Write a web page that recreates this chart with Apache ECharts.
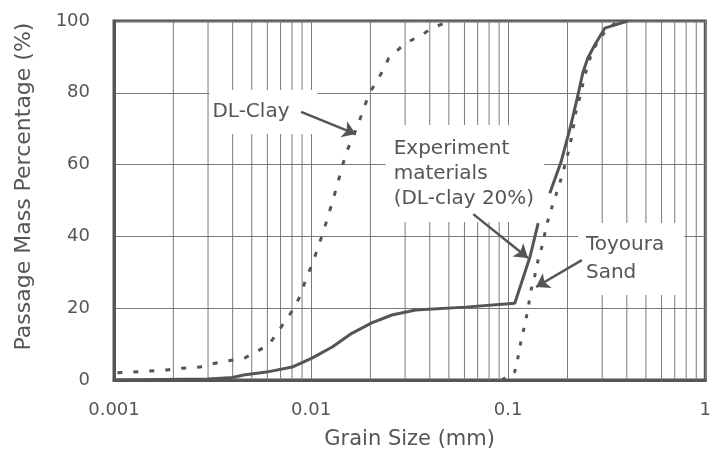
<!DOCTYPE html>
<html>
<head>
<meta charset="utf-8">
<script src="https://cdn.jsdelivr.net/npm/echarts@6/dist/echarts.min.js"></script>
<style>
html,body{margin:0;padding:0;background:#fff;}
#chart{width:714px;height:462px;}
</style>
</head>
<body>
<div id="chart"></div>
<script>
// ---- data ----
const xTickValues = [0.001, 0.01, 0.1, 1];
const xTickLabels = ['0.001', '0.01', '0.1', '1'];
const minorGridX = [0.002,0.003,0.004,0.005,0.006,0.007,0.008,0.009,
                    0.02,0.03,0.04,0.05,0.06,0.07,0.08,0.09,
                    0.2,0.3,0.4,0.5,0.6,0.7,0.8,0.9];

const dlClayX = [0.00104,0.00125,0.00152,0.00185,0.00223,0.00272,0.00313,0.00376,0.00459,0.00515,0.00614,0.0069,0.00774,0.0082,0.0089,0.00944,0.0102,0.01084,0.0115,0.0122,0.0129,0.015,0.01746,0.0185,0.02,0.0225,0.0248,0.0301,0.0364,0.0409,0.0508];
const dlClayY = [2,2.2,2.5,2.8,3.3,3.6,4.5,5.3,6.1,7.5,10,14,18,20,24,28.4,32.6,37,41,45.7,50,63,71.6,75.8,80.3,85,89.7,93.8,96.1,98,100];

const expX = [0.001,0.003,0.004,0.00454,0.00593,0.00802,0.0101,0.0128,0.0161,0.0203,0.0257,0.0339,0.0607,0.108,0.129,0.142,0.152,0.1626,0.1854,0.208,0.226,0.239,0.2535,0.275,0.309,0.404];
const expY = [0,0.3,0.7,1.4,2.2,3.6,6.1,9.2,13,15.9,18.1,19.5,20.3,21.4,34.3,43.7,null,52,60.7,71,79.4,85.5,89.7,93.3,98,100];

const toyX = [0.093,0.108,0.1124,0.1168,0.1214,0.1262,0.1306,0.1364,0.1418,0.1503,0.1556,0.165,0.1746,0.1854,0.196,0.206,0.213,0.22,0.231,0.242,0.251,0.269,0.309,0.36];
const toyY = [0,2.3,6.5,11.6,15.3,20,25,29,33.4,38.2,42.6,47.4,51.5,56,60.7,65.5,69.6,74.4,78.8,83.6,87,92,97,100];

const labelTexts = ['DL-Clay', 'Experiment\nmaterials\n(DL-clay 20%)', 'Toyoura\nSand'];
const labelAnchors = [[0.00305, 74.65], [0.0239, 57.5], [0.226, 33.7]];
const arrowStarts = [[0.0089, 74.7], [0.0665, 46.2], [0.2365, 33.4]];
const arrowEnds = [[0.01686, 68.5], [0.126, 34], [0.1384, 25.9]];

// ---- chart ----
const FONT = 'DejaVu Sans';
const TXT = '#555';
const LINE = '#555';
const GRIDC = '#7a7a7a';

function pairs(xs, ys) {
  return xs.map((x, i) => [x, ys[i] === null ? '-' : ys[i]]);
}
// vertical grid segments for the minor log positions, broken between each
const gridData = [];
minorGridX.forEach(v => { gridData.push([v, 0], [v, 100], [v, '-']); });

const chart = echarts.init(document.getElementById('chart'), null, {renderer: 'canvas'});

const labelPads = [[11, 28, 11, 3], [10, 10, 12, 8], [8, 20, 8, 8]];
const labelLH = [22, 25, 28];

chart.setOption({
  animation: false,
  backgroundColor: '#fff',
  grid: {left: 114, right: 6, top: 21, bottom: 82, show: true, borderColor: LINE, borderWidth: 3, backgroundColor: 'transparent'},
  xAxis: {
    type: 'log', logBase: 10, min: 0.001, max: 1,
    name: 'Grain Size (mm)', nameLocation: 'middle', nameGap: 49,
    nameTextStyle: {fontFamily: FONT, fontSize: 21, color: TXT},
    axisLine: {show: true, lineStyle: {color: LINE, width: 3}},
    axisTick: {show: false},
    splitLine: {show: true, lineStyle: {color: GRIDC, width: 1}},
    minorTick: {show: false}, minorSplitLine: {show: false},
    axisLabel: {
      fontFamily: FONT, fontSize: 18, color: TXT, margin: 21,
      formatter: function (v) {
        const e = Math.round(Math.log10(v));
        const idx = xTickValues.findIndex(t => Math.round(Math.log10(t)) === e);
        return idx >= 0 ? xTickLabels[idx] : '';
      }
    }
  },
  yAxis: {
    type: 'value', min: 0, max: 100, interval: 20,
    name: 'Passage Mass Percentage (%)', nameLocation: 'middle', nameGap: 79,
    nameTextStyle: {fontFamily: FONT, fontSize: 22, color: TXT, padding: [0, 0, 0, 28]},
    axisLine: {show: true, lineStyle: {color: LINE, width: 3}},
    axisTick: {show: false},
    splitLine: {show: true, lineStyle: {color: GRIDC, width: 1}},
    axisLabel: {fontFamily: FONT, fontSize: 18, color: TXT, margin: 24}
  },
  series: [
    {
      name: 'minorGrid', type: 'line', data: gridData, z: 1, zlevel: 0, silent: true,
      showSymbol: false, symbol: 'none', connectNulls: false,
      lineStyle: {color: GRIDC, width: 1, type: 'solid'}
    },
    {
      name: 'labels', type: 'line', data: [], z: 2, zlevel: 0, silent: true,
      markPoint: {
        silent: true, animation: false, z: 2, zlevel: 0,
        data: labelTexts.map((t, i) => ({
          coord: labelAnchors[i], symbol: 'rect', symbolSize: 0,
          label: {
            show: true, position: 'right', distance: 0, formatter: t,
            fontFamily: FONT, fontSize: 20, color: TXT, lineHeight: labelLH[i],
            backgroundColor: '#fff', padding: labelPads[i], align: 'left'
          }
        }))
      }
    },
    {
      name: 'DL-Clay', type: 'line', z: 3, zlevel: 1, data: pairs(dlClayX, dlClayY),
      showSymbol: false, symbol: 'none',
      lineStyle: {color: LINE, width: 3, type: [5, 11], cap: 'butt'}
    },
    {
      name: 'Experiment materials', type: 'line', z: 3, zlevel: 1, data: pairs(expX, expY),
      showSymbol: false, symbol: 'none', connectNulls: false,
      lineStyle: {color: LINE, width: 3, type: 'solid'}
    },
    {
      name: 'Toyoura Sand', type: 'line', z: 3, zlevel: 1, data: pairs(toyX, toyY),
      showSymbol: false, symbol: 'none',
      lineStyle: {color: LINE, width: 3, type: [4, 10], cap: 'butt'}
    },
    {
      name: 'arrows', type: 'line', data: [], z: 4, zlevel: 1, silent: true,
      markLine: {
        silent: true, animation: false, z: 10, zlevel: 1,
        symbol: ['none', 'arrow'], symbolSize: 13,
        label: {show: false},
        lineStyle: {color: LINE, width: 2.5, type: 'solid'},
        data: arrowStarts.map((s, i) => [{coord: s}, {coord: arrowEnds[i]}])
      }
    }
  ]
});
</script>
</body>
</html>
